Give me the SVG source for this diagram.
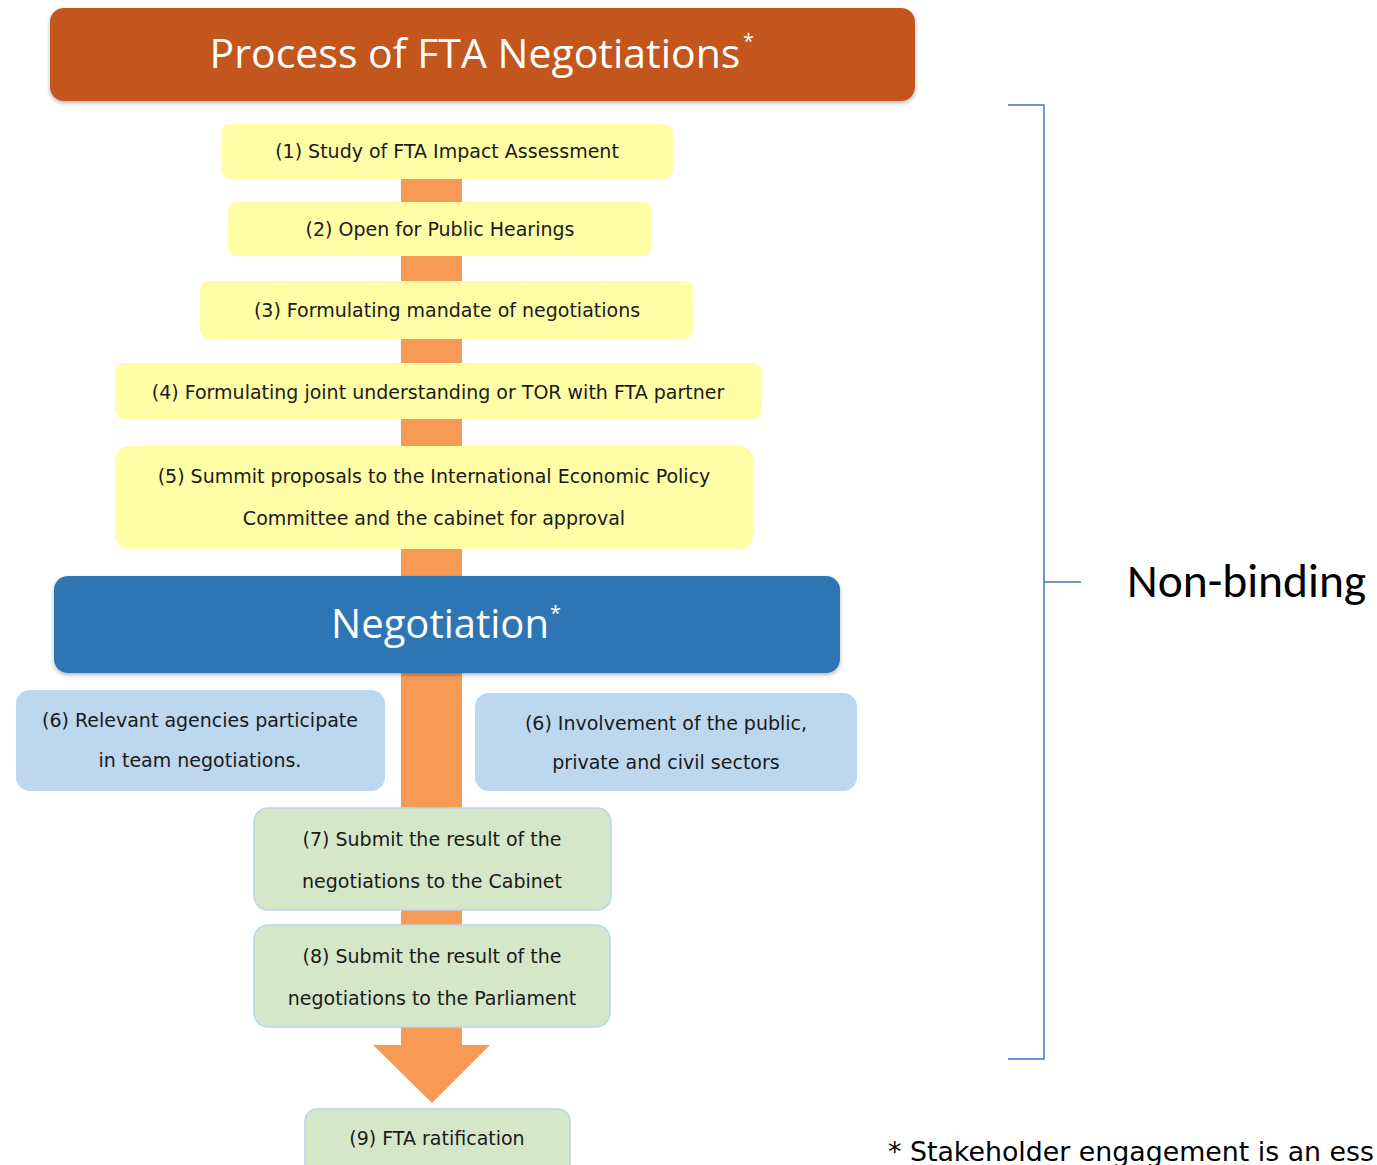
<svg xmlns="http://www.w3.org/2000/svg" width="1377" height="1165" viewBox="0 0 1377 1165">
<defs>
<filter id="sh" x="-5%" y="-20%" width="110%" height="140%">
<feGaussianBlur in="SourceAlpha" stdDeviation="2"/>
<feOffset dx="0" dy="2"/>
<feComponentTransfer><feFuncA type="linear" slope="0.3"/></feComponentTransfer>
<feMerge><feMergeNode/><feMergeNode in="SourceGraphic"/></feMerge>
</filter>
<style>
.t{font-family:"DejaVu Sans","Liberation Sans",sans-serif;font-size:19px;fill:#1a1a1a;text-anchor:middle}
.y{fill:#FFFDA5}
.b{fill:#BDD7EE}
.g{fill:#D4E7C9;stroke:#BCD5E8;stroke-width:1.5}
.hd{font-family:"Open Sans","Liberation Sans",sans-serif;fill:#fff;text-anchor:middle}
.st{font-family:"Open Sans","Liberation Sans",sans-serif;fill:#fff;font-size:20px}
</style>
</defs>
<rect width="1377" height="1165" fill="#fff"/>
<g id="connectors">
<rect x="401" y="176" width="61" height="872" fill="#F79A56"/>
<polygon points="373,1045 490,1045 432,1103" fill="#F79A56"/>
</g>
<g id="title">
<rect x="50" y="8" width="865" height="93" rx="14" fill="#C3571E" filter="url(#sh)"/>
<text class="hd" x="475" y="68" font-size="41">Process of FTA Negotiations</text>
<text class="st" x="743" y="48">*</text>
</g>
<g id="n1">
<rect class="y" x="221" y="124" width="452" height="55" rx="9"/>
<text class="t" x="447" y="158">(1) Study of FTA Impact Assessment</text>
</g>
<g id="n2">
<rect class="y" x="228" y="202" width="424" height="54" rx="9"/>
<text class="t" x="440" y="236">(2) Open for Public Hearings</text>
</g>
<g id="n3">
<rect class="y" x="200" y="281" width="493" height="58" rx="9"/>
<text class="t" x="447" y="317">(3) Formulating mandate of negotiations</text>
</g>
<g id="n4">
<rect class="y" x="115" y="363" width="647" height="56" rx="9"/>
<text class="t" x="438" y="399">(4) Formulating joint understanding or TOR with FTA partner</text>
</g>
<g id="n5">
<rect class="y" x="115" y="446" width="638" height="103" rx="14"/>
<text class="t" x="434" y="483">(5) Summit proposals to the International Economic Policy</text>
<text class="t" x="434" y="525">Committee and the cabinet for approval</text>
</g>
<g id="negotiation">
<rect x="54" y="576" width="786" height="97" rx="14" fill="#2E75B3" filter="url(#sh)"/>
<text class="hd" x="440" y="638" font-size="40">Negotiation</text>
<text class="st" x="550" y="620">*</text>
</g>
<g id="n6a">
<rect class="b" x="16" y="690" width="369" height="101" rx="14"/>
<text class="t" x="200" y="727">(6) Relevant agencies participate</text>
<text class="t" x="200" y="767">in team negotiations.</text>
</g>
<g id="n6b">
<rect class="b" x="475" y="693" width="382" height="98" rx="14"/>
<text class="t" x="666" y="730">(6) Involvement of the public,</text>
<text class="t" x="666" y="769">private and civil sectors</text>
</g>
<g id="n7">
<rect class="g" x="254" y="808" width="357" height="102" rx="14"/>
<text class="t" x="432" y="846">(7) Submit the result of the</text>
<text class="t" x="432" y="888">negotiations to the Cabinet</text>
</g>
<g id="n8">
<rect class="g" x="254" y="925" width="356" height="102" rx="14"/>
<text class="t" x="432" y="963">(8) Submit the result of the</text>
<text class="t" x="432" y="1005">negotiations to the Parliament</text>
</g>
<g id="n9">
<rect class="g" x="305" y="1109" width="265" height="70" rx="12" stroke="none"/>
<text class="t" x="437" y="1145">(9) FTA ratification</text>
</g>
<g id="bracket" fill="none" stroke="#4472C4" stroke-width="1.5">
<polyline points="1008,105 1044,105 1044,1059 1008,1059"/>
<line x1="1044" y1="582" x2="1081" y2="582"/>
</g>
<text x="1127" y="597" font-family="Carlito,'Liberation Sans',sans-serif" font-size="47.5" fill="#000">Non-binding</text>
<text x="888" y="1161" font-family="'DejaVu Sans','Liberation Sans',sans-serif" font-size="26.8" fill="#000">* Stakeholder engagement is an ess</text>
</svg>
